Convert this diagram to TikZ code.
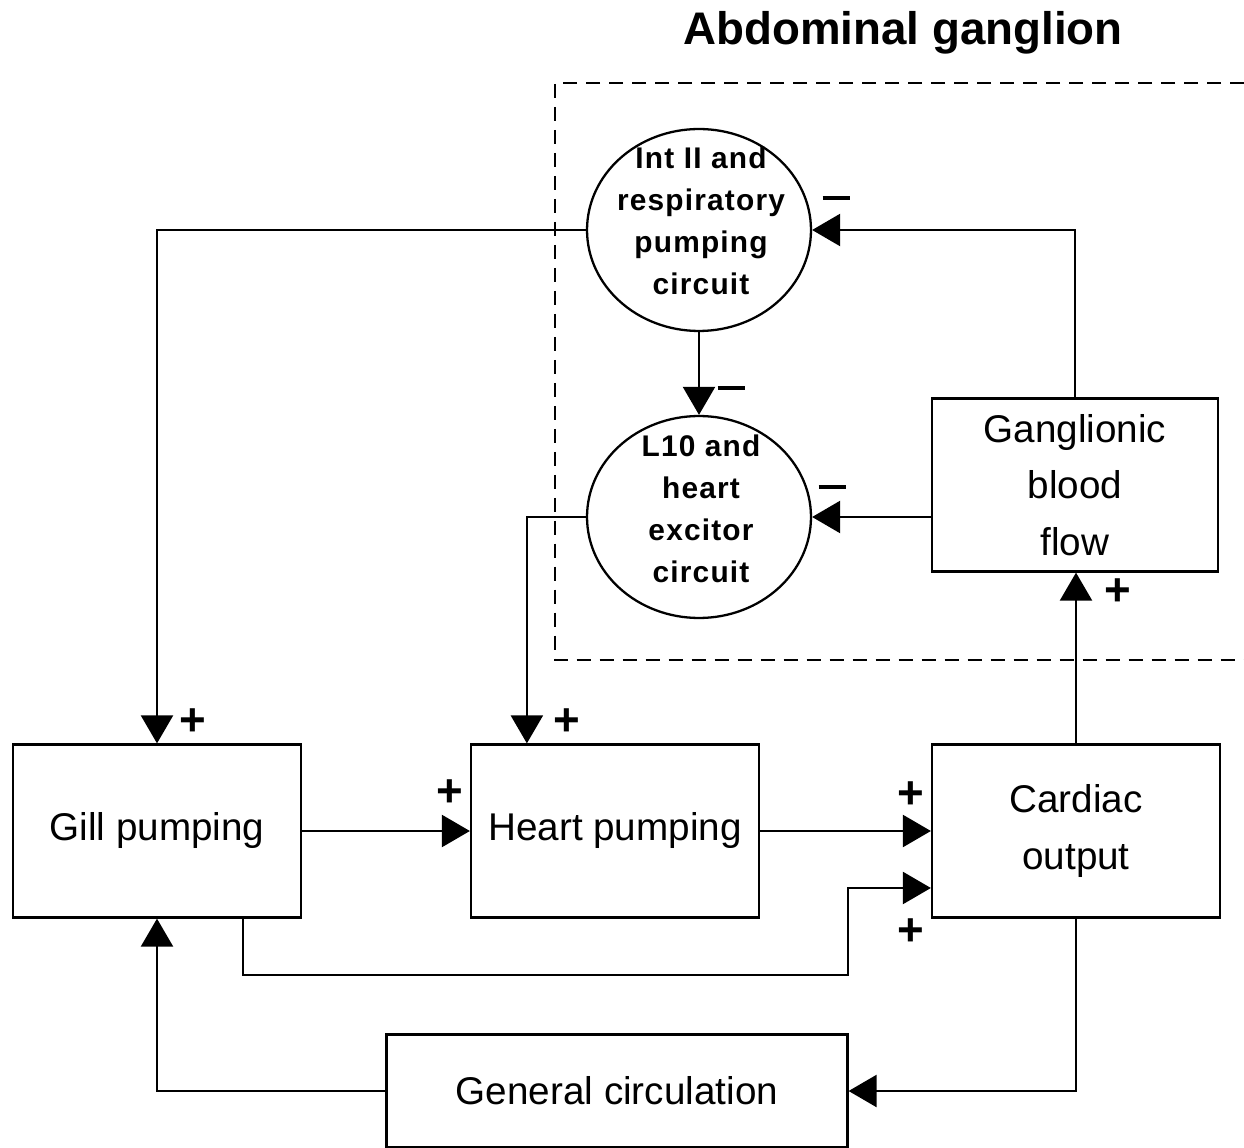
\documentclass[tikz,border=0pt]{standalone}
\usepackage{fontspec}
\setmainfont{Liberation Sans}
\newfontfamily\circfont[LetterSpace=4]{Liberation Sans}
\usetikzlibrary{arrows.meta,shapes.geometric}

\tikzset{
  box/.style={draw, line width=1.3pt, minimum width=5.76cm, minimum height=3.46cm,
    align=center, font=\fontsize{22}{32}\selectfont},
  circuit/.style={draw, ellipse, line width=1.3pt, minimum width=4.48cm,
    minimum height=4.04cm, inner sep=0pt},
  circtext/.style={align=center, font=\circfont\bfseries\fontsize{17}{24}\selectfont},
  link/.style={line width=1.3pt, -{Triangle[length=0.56cm, width=0.64cm]}},
  sign/.style={font=\bfseries\fontsize{26}{26}\selectfont, inner sep=0pt},
}
\newcommand{\minussign}{\rule{0.54cm}{0.09cm}}

\begin{document}
\begin{tikzpicture}[x=0.02cm, y=-0.02cm]
\useasboundingbox (0,0) rectangle (1244,1148);

% ---------- Abdominal ganglion ----------
\node[font=\bfseries\fontsize{26}{30}\selectfont] (title) at (903,33) {Abdominal ganglion};
\draw[line width=1.6pt, dash pattern=on 0.28cm off 0.18cm] (1244,83) -| (555,660) -- (1244,660);

\node[circuit] (intII) at (699,230) {};
\node[circtext] (intIItxt) at (701,221) {Int II and\\respiratory\\pumping\\circuit};
\node[circuit] (lten) at (699,517) {};
\node[circtext] (ltentxt) at (701,509) {L10 and\\heart\\excitor\\circuit};
\node[box, minimum width=5.72cm] (gbf) at (1075,485) {Ganglionic\\blood\\flow};

% ---------- boxes ----------
\node[box] (gill) at (157,831) {Gill pumping};
\node[box] (heart) at (615,831) {Heart pumping};
\node[box] (cardiac) at (1076,831) {Cardiac\\output};
\node[box, minimum width=9.22cm, minimum height=2.26cm] (gencirc) at (617,1091) {General circulation};

% ---------- connections ----------
\draw[link] (intII.west) -| (gill.north);
\draw[link] (intII.south) -- (lten.north);
\draw[link] (lten.west) -| ([xshift=1.14cm]heart.north west);
\draw[link] (gbf.north) |- (intII.east);
\draw[link] (lten.east -| gbf.west) -- (lten.east);
\draw[link] (gill.east) -- (heart.west);
\draw[link] (heart.east) -- (cardiac.west);
\coordinate (detour) at (848,975);
\draw[link] ([xshift=1.72cm]gill.south) |- (detour) |- ([yshift=-1.14cm]cardiac.west);
\draw[link] (cardiac.north) -- (cardiac.north |- gbf.south);
\draw[link] (cardiac.south) |- (gencirc.east);
\draw[link] (gencirc.west) -| (gill.south);

% ---------- signs ----------
\node[sign] (mint) at (836,198) {\minussign};
\node[sign] (mlten) at (832,487) {\minussign};
\node[sign] (mdown) at (731,388) {\minussign};
\node[sign] (pgill) at (193,722) {+};
\node[sign] (pheart) at (567,722) {+};
\node[sign] (pgh) at (450,793) {+};
\node[sign] (phc) at (911,795) {+};
\node[sign] (pdet) at (911,932) {+};
\node[sign] (pgbf) at (1118,592) {+};

\end{tikzpicture}
\end{document}
